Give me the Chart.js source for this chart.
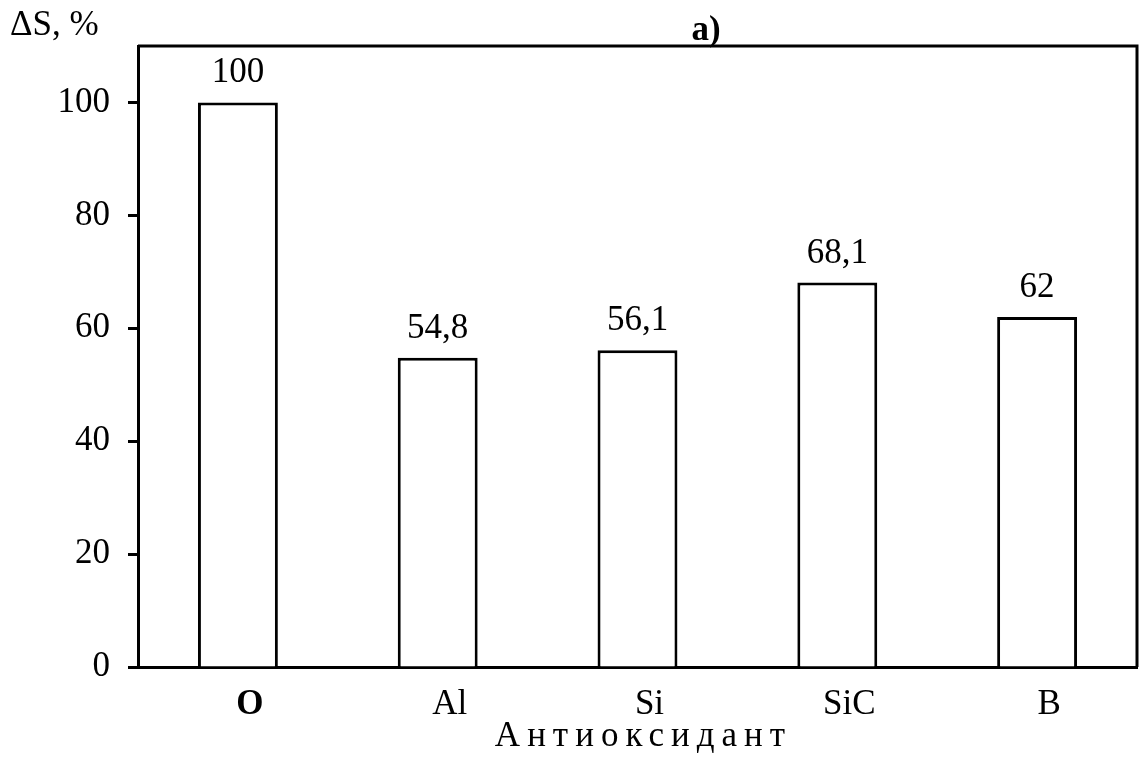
<!DOCTYPE html>
<html>
<head>
<meta charset="utf-8">
<script src="https://cdn.jsdelivr.net/npm/chart.js@4"></script>
<style>
  html, body { margin:0; padding:0; background:#fff; }
  #wrap { width:1139px; height:760px; }
</style>
</head>
<body>
<div id="wrap"><canvas id="c" width="1139" height="760"></canvas></div>
<script>
const categories = ['O', 'Al', 'Si', 'SiC', 'B'];
const values = [100, 54.8, 56.1, 68.1, 62];
const yTicks = [0, 20, 40, 60, 80, 100];
const yTitle = 'ΔS, %';
const xTitle = 'Антиоксидант';
const panelTitle = 'а)';

const FONT = '"Liberation Serif", "Times New Roman", serif';
const FS = 35;

// value labels, frame, titles
const extras = {
  id: 'extras',
  afterDatasetsDraw(chart){
    const ctx = chart.ctx, a = chart.chartArea;
    ctx.save();
    ctx.fillStyle = '#000';
    ctx.font = FS + 'px ' + FONT;
    ctx.textAlign = 'center'; ctx.textBaseline = 'alphabetic';
    chart.getDatasetMeta(0).data.forEach((bar, i) => {
      ctx.fillText(String(values[i]).replace('.', ','), bar.x, bar.y - 20);
    });
    // frame top + right
    ctx.strokeStyle = '#000'; ctx.lineWidth = 3;
    ctx.beginPath();
    ctx.moveTo(a.left, a.top); ctx.lineTo(a.right, a.top); ctx.lineTo(a.right, a.bottom);
    ctx.stroke();
    // y title
    ctx.textAlign = 'left';
    ctx.fillText(yTitle, 10, 35);
    // panel title
    ctx.font = 'bold ' + FS + 'px ' + FONT;
    ctx.textAlign = 'center';
    ctx.fillText(panelTitle, 706, 40);
    // x title, letter spaced
    ctx.font = FS + 'px ' + FONT;
    ctx.letterSpacing = '7px';
    ctx.fillText(xTitle, (a.left + a.right) / 2 + 6, 746);
    ctx.restore();
  }
};

new Chart(document.getElementById('c'), {
  type: 'bar',
  data: {
    labels: categories,
    datasets: [{
      data: values,
      backgroundColor: '#fff',
      borderColor: '#000',
      borderWidth: 3,
      categoryPercentage: 1,
      barPercentage: 0.4
    }]
  },
  options: {
    responsive: false,
    animation: false,
    events: [],
    layout: { padding: { top: 46, right: 2, left: 0, bottom: 0 } },
    plugins: { legend: { display: false }, tooltip: { enabled: false }, title: { display: false } },
    scales: {
      x: {
        grid: { display: false, drawTicks: false },
        border: { display: true, color: '#000', width: 3 },
        ticks: {
          color: '#000',
          padding: 17,
          labelOffset: 12,
          font: (c) => ({ family: FONT, size: FS, weight: c.index === 0 ? 'bold' : 'normal' })
        },
        afterFit: (s) => { s.height = 93; }
      },
      y: {
        min: 0, max: 110,
        afterBuildTicks: (s) => { s.ticks = yTicks.map(v => ({ value: v })); },
        grid: { drawOnChartArea: false, drawTicks: true, tickLength: 10, tickColor: '#000', tickWidth: 3 },
        border: { display: true, color: '#000', width: 3 },
        ticks: { color: '#000', padding: 18, font: { family: FONT, size: FS } },
        afterFit: (s) => { s.width = 138; }
      }
    }
  },
  plugins: [extras]
});
</script>
</body>
</html>
